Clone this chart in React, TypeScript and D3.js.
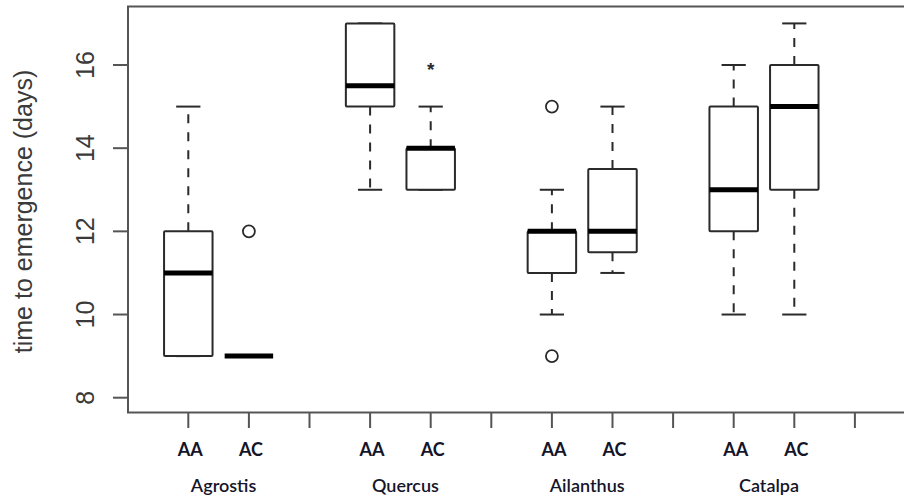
import React from "react";
import * as d3 from "d3";

// ---- data ----
const groups = ["Agrostis", "Quercus", "Ailanthus", "Catalpa"];
const treatments = ["AA", "AC"];
// one entry per box, order: Agrostis AA, Agrostis AC, Quercus AA, Quercus AC, Ailanthus AA, Ailanthus AC, Catalpa AA, Catalpa AC
const whiskerLow = [9, 9, 13, 13, 10, 11, 10, 10];
const q1 = [9, 9, 15, 13, 11, 11.5, 12, 13];
const median = [11, 9, 15.5, 14, 12, 12, 13, 15];
const q3 = [12, 9, 17, 14, 12, 13.5, 15, 16];
const whiskerHigh = [15, 9, 17, 15, 13, 15, 16, 17];
const outliers: number[][] = [[], [12], [], [], [15, 9], [], [], []];
const starMarks: number[][] = [[], [], [], [16], [], [], [], []];
const yTicks = [8, 10, 12, 14, 16];
const slots = [1, 2, 3, 4, 5, 6, 7, 8, 9, 10, 11, 12];
const yTitle = "time to emergence (days)";

export default function App() {
  const W = 904;
  const H = 503;
  const frameL = 128;
  const frameT = 6.5;
  const frameB = 412.5;
  const frameR = 917;

  const x = d3.scaleLinear().domain([1, 12]).range([188.3, 854.9]);
  const y = d3.scaleLinear().domain([8, 16]).range([397.7, 65]);
  const slotW = x(2) - x(1);
  const halfBox = slotW * 0.4;
  const halfStaple = halfBox / 2;

  const boxes = median.map((m, i) => {
    const g = Math.floor(i / 2);
    const t = i % 2;
    return {
      pos: g * 3 + t + 1,
      label: treatments[t],
      lo: whiskerLow[i],
      q1: q1[i],
      med: m,
      q3: q3[i],
      hi: whiskerHigh[i],
      out: outliers[i],
      star: starMarks[i],
    };
  });

  const lineCol = "#2a2a2a";
  const axisCol = "#555";
  const textCol = "#3a3a3a";
  const labelCol = "#15152a";
  const labelFont = "Lato, 'Open Sans', sans-serif";
  const axisFont = "'Liberation Sans', Arial, sans-serif";

  return (
    <svg
      width={W}
      height={H}
      style={{ position: "absolute", left: 0, top: 0, background: "#fff" }}
    >
      <rect x={0} y={0} width={W} height={H} fill="#fff" />
      {/* frame */}
      <rect
        x={frameL}
        y={frameT}
        width={frameR - frameL}
        height={frameB - frameT}
        fill="none"
        stroke={axisCol}
        strokeWidth={2}
      />
      {/* y axis */}
      {yTicks.map((v) => (
        <g key={"yt" + v}>
          <line x1={frameL - 15} x2={frameL} y1={y(v)} y2={y(v)} stroke={axisCol} strokeWidth={2} />
          <text
            transform={`translate(94,${y(v)}) rotate(-90)`}
            textAnchor="middle"
            fontFamily={axisFont}
            fontSize={25}
            fill={textCol}
          >
            {v}
          </text>
        </g>
      ))}
      <text
        transform={`translate(31.5,${211.5}) rotate(-90)`}
        textAnchor="middle"
        fontFamily={axisFont}
        fontSize={25}
        fill={textCol}
      >
        {yTitle}
      </text>
      {/* x axis ticks */}
      {slots.map((s) => (
        <line key={"xt" + s} x1={x(s)} x2={x(s)} y1={frameB} y2={frameB + 15.5} stroke={axisCol} strokeWidth={2} />
      ))}
      {/* boxes */}
      {boxes.map((b, i) => {
        const cx = x(b.pos);
        return (
          <g key={"b" + i}>
            {/* whiskers */}
            {b.hi > b.q3 && (
              <line x1={cx} x2={cx} y1={y(b.q3)} y2={y(b.hi)} stroke={lineCol} strokeWidth={2} strokeDasharray="9,9" />
            )}
            {b.lo < b.q1 && (
              <line x1={cx} x2={cx} y1={y(b.q1)} y2={y(b.lo)} stroke={lineCol} strokeWidth={2} strokeDasharray="9,9" />
            )}
            {/* staples */}
            <line x1={cx - halfStaple} x2={cx + halfStaple} y1={y(b.hi)} y2={y(b.hi)} stroke={lineCol} strokeWidth={2} />
            <line x1={cx - halfStaple} x2={cx + halfStaple} y1={y(b.lo)} y2={y(b.lo)} stroke={lineCol} strokeWidth={2} />
            {/* box */}
            <rect
              x={cx - halfBox}
              y={y(b.q3)}
              width={halfBox * 2}
              height={Math.max(0, y(b.q1) - y(b.q3))}
              fill="#fff"
              stroke={lineCol}
              strokeWidth={2}
              rx={1}
            />
            {/* median */}
            <line x1={cx - halfBox} x2={cx + halfBox} y1={y(b.med)} y2={y(b.med)} stroke="#000" strokeWidth={5} />
            {/* outliers */}
            {b.out.map((o, j) => (
              <circle key={"o" + j} cx={cx} cy={y(o)} r={6} fill="none" stroke={lineCol} strokeWidth={1.8} />
            ))}
            {b.star.map((s, j) => (
              <text
                key={"s" + j}
                x={cx}
                y={y(s) + 11}
                textAnchor="middle"
                fontFamily={axisFont}
                fontWeight={700}
                fontSize={19}
                fill={lineCol}
              >
                *
              </text>
            ))}
            {/* treatment label */}
            <text
              x={cx + 2}
              y={456}
              textAnchor="middle"
              fontFamily={labelFont}
              fontWeight={700}
              fontSize={18}
              fill={labelCol}
            >
              {b.label}
            </text>
          </g>
        );
      })}
      {/* group labels */}
      {groups.map((g, i) => {
        const mid = (x(i * 3 + 1) + x(i * 3 + 2)) / 2 + 5;
        return (
          <text
            key={"g" + g}
            x={mid}
            y={492}
            textAnchor="middle"
            fontFamily={labelFont}
            fontWeight={600}
            fontSize={18}
            fill={labelCol}
          >
            {g}
          </text>
        );
      })}
    </svg>
  );
}
